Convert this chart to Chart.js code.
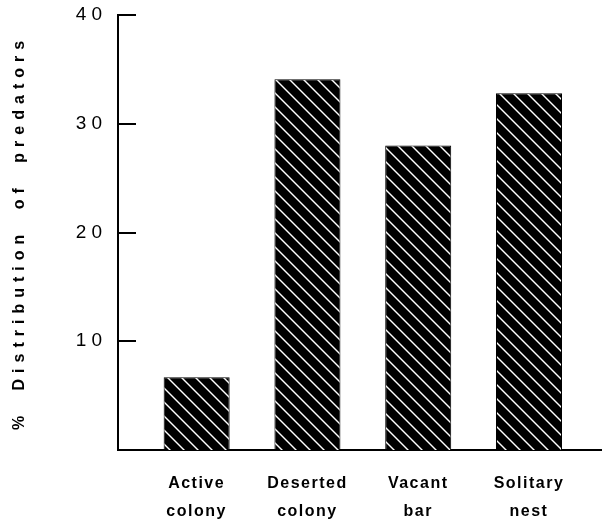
<!DOCTYPE html>
<html>
<head>
<meta charset="utf-8">
<title>% Distribution of predators</title>
<script src="https://cdn.jsdelivr.net/npm/chart.js@4/dist/chart.umd.min.js"></script>
<style>
  html, body { margin: 0; padding: 0; background: #ffffff; }
  #wrap { width: 602px; height: 519px; }
</style>
</head>
<body>
<div id="wrap"><canvas id="chart" width="602" height="519"></canvas></div>
<script>
// Site categories and share of predators found at each (%)
const categories = ['Active colony', 'Deserted colony', 'Vacant bar', 'Solitary nest'];
const predatorShare = [6.7, 34.1, 28.0, 32.8];
const yTickValues = [10, 20, 30, 40];
const yAxisTitle = '% Distribution of predators';

// Black fill with thin white "\" hatching
function hatchPattern() {
  const s = 14;
  const c = document.createElement('canvas');
  c.width = s; c.height = s;
  const g = c.getContext('2d');
  g.fillStyle = '#000';
  g.fillRect(0, 0, s, s);
  g.strokeStyle = '#fff';
  g.lineWidth = 1.4;
  for (const k of [-s, 0, s]) {
    g.beginPath();
    g.moveTo(k - 1, -1);
    g.lineTo(k + s + 1, s + 1);
    g.stroke();
  }
  return g.createPattern(c, 'repeat');
}

// Wraps a scale draw method so its text uses extra letter / word spacing
function spaced(fn, letter, word) {
  const wrapped = function (...args) {
    const ctx = this.ctx;
    ctx.save();
    ctx.letterSpacing = letter;
    ctx.wordSpacing = word || '0px';
    fn.apply(this, args);
    ctx.restore();
  };
  wrapped._spaced = true;
  return wrapped;
}

const spacingPlugin = {
  id: 'spacing',
  beforeDraw(chart) {
    const { x, y } = chart.scales;
    if (!y.drawTitle._spaced) {
      y.drawTitle = spaced(y.drawTitle, '6px', '9px');
      y.drawLabels = spaced(y.drawLabels, '5px');
      x.drawLabels = spaced(x.drawLabels, '1.5px');
    }
  }
};

// Short tick marks pointing into the plot from the y axis
const inwardTicks = {
  id: 'inwardTicks',
  afterDraw(chart) {
    const { ctx, chartArea } = chart;
    const y = chart.scales.y;
    ctx.save();
    ctx.strokeStyle = '#000';
    ctx.lineWidth = 2;
    ctx.lineCap = 'butt';
    y.ticks.forEach(t => {
      const py = Math.round(y.getPixelForValue(t.value));
      ctx.beginPath();
      ctx.moveTo(chartArea.left, py);
      ctx.lineTo(chartArea.left + 18, py);
      ctx.stroke();
    });
    ctx.restore();
  }
};

const labelFont = '"Liberation Sans", Arial, sans-serif';

new Chart(document.getElementById('chart'), {
  type: 'bar',
  data: {
    datasets: [{
      data: predatorShare.map((v, i) => ({ x: i + 1, y: v })),
      backgroundColor: hatchPattern(),
      borderColor: '#000',
      borderWidth: 1,
      categoryPercentage: 1,
      barPercentage: 0.596
    }]
  },
  options: {
    responsive: false,
    animation: false,
    devicePixelRatio: 1,
    layout: { padding: { top: 15, right: 1, bottom: 0, left: 0 } },
    plugins: {
      legend: { display: false },
      tooltip: { enabled: false }
    },
    scales: {
      x: {
        type: 'linear',
        offset: false,
        min: 0.29,
        max: 4.65,
        grid: { display: false, drawTicks: false, offset: false },
        border: { display: true, color: '#000', width: 2 },
        afterBuildTicks: scale => {
          scale.ticks = categories.map((c, i) => ({ value: i + 1 }));
        },
        afterFit: scale => { scale.height = 69; },
        ticks: {
          color: '#000',
          padding: 20,
          maxRotation: 0,
          autoSkip: false,
          font: { family: labelFont, size: 16, weight: 'bold', lineHeight: 1.75 },
          callback: value => {
            const name = categories[Math.round(value) - 1];
            return name ? name.split(' ') : '';
          }
        }
      },
      y: {
        min: 0,
        max: 40,
        grid: { display: false, drawTicks: false },
        border: { display: true, color: '#000', width: 2 },
        afterBuildTicks: scale => {
          scale.ticks = yTickValues.map(v => ({ value: v }));
        },
        afterFit: scale => {
          scale.width = 118;
          scale.paddingTop = 0;
          scale.paddingBottom = 0;
        },
        ticks: {
          color: '#000',
          padding: 11,
          font: { family: labelFont, size: 19, weight: 'normal' }
        },
        title: {
          display: true,
          text: yAxisTitle,
          color: '#000',
          padding: { top: 10, bottom: 0 },
          font: { family: labelFont, size: 16, weight: 'bold' }
        }
      }
    }
  },
  plugins: [spacingPlugin, inwardTicks]
});
</script>
</body>
</html>
